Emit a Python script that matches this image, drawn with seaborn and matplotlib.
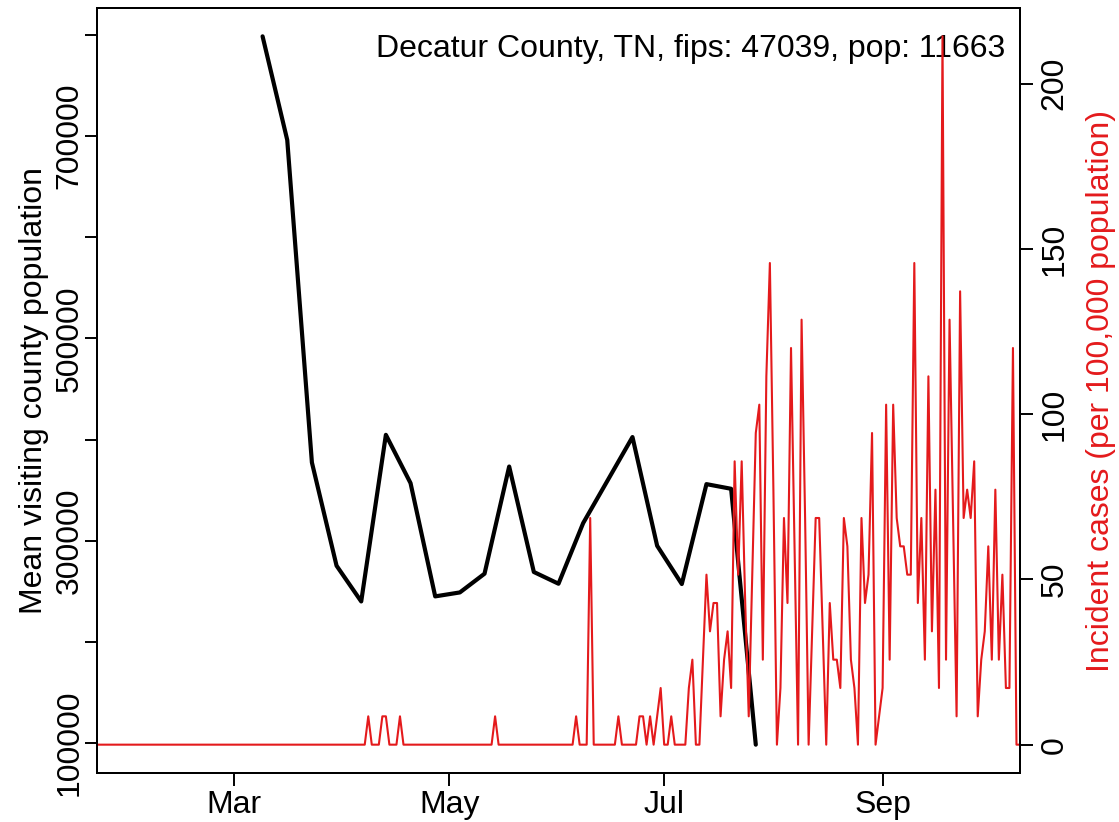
import numpy as np
import pandas as pd
import matplotlib
matplotlib.use("Agg")
import matplotlib.pyplot as plt
import matplotlib.dates as mdates
import matplotlib.ticker as mticker
import seaborn as sns

# ---------------- data ----------------
title_text = "Decatur County, TN, fips: 47039, pop: 11663"
county_pop = 11663

# weekly mean visiting county population (Mondays from 2020-03-09)
visit_start = "2020-03-09"
visit_pop = [798400, 696000, 377400, 275400, 240100, 404700, 357000, 245100,
             249000, 267500, 373400, 269200, 257600, 317500, 360000, 402500,
             295100, 257300, 356000, 351400, 98600]

# daily incident case counts, 2020-01-22 .. 2020-10-10
case_start = "2020-01-22"
cases_jan = [0, 0, 0, 0, 0, 0, 0, 0, 0, 0]
cases_feb = [0] * 29
cases_mar = [0] * 31
cases_apr = [0, 0, 0, 0, 0, 0, 0, 1, 0, 0, 0, 1, 1, 0, 0, 0, 1,
             0, 0, 0, 0, 0, 0, 0, 0, 0, 0, 0, 0, 0]
cases_may = [0, 0, 0, 0, 0, 0, 0, 0, 0, 0, 0, 0, 0, 1, 0, 0,
             0, 0, 0, 0, 0, 0, 0, 0, 0, 0, 0, 0, 0, 0, 0]
cases_jun = [0, 0, 0, 0, 0, 1, 0, 0, 0, 8, 0, 0, 0, 0, 0, 0, 0, 1,
             0, 0, 0, 0, 0, 1, 1, 0, 1, 0, 1, 2]
cases_jul = [0, 0, 1, 0, 0, 0, 0, 2, 3, 0, 0, 3, 6, 4, 5, 5, 1, 3, 4, 2,
             10, 6, 10, 5, 1, 6, 11, 12, 3, 13, 17]
cases_aug = [9, 0, 2, 8, 5, 14, 7, 0, 15, 8, 0, 4, 8, 8, 4, 0, 5, 3, 3, 2,
             8, 7, 3, 2, 0, 8, 5, 6, 11, 0, 1]
cases_sep = [2, 12, 3, 12, 8, 7, 7, 6, 6, 17, 5, 8, 3, 13, 4, 9, 2, 25, 3,
             15, 8, 1, 16, 8, 9, 8, 10, 1, 3, 4]
cases_oct = [7, 3, 9, 3, 6, 2, 2, 14, 0, 0]

x_tick_dates = ["2020-03-01", "2020-05-01", "2020-07-01", "2020-09-01"]
x_tick_labels = ["Mar", "May", "Jul", "Sep"]
left_ticks = [100000, 200000, 300000, 400000, 500000, 600000, 700000, 800000]
left_labeled = [100000, 300000, 500000, 700000]
right_ticks = [0, 50, 100, 150, 200]

# ---------------- frames ----------------
visit_df = pd.DataFrame({
    "date": pd.date_range(visit_start, periods=len(visit_pop), freq="7D"),
    "pop": visit_pop,
})
case_counts = (cases_jan + cases_feb + cases_mar + cases_apr + cases_may +
               cases_jun + cases_jul + cases_aug + cases_sep + cases_oct)
case_df = pd.DataFrame({
    "date": pd.date_range(case_start, periods=len(case_counts), freq="D"),
    "cases": case_counts,
})
case_df["rate"] = case_df["cases"] * 100000 / county_pop

# ---------------- style ----------------
sns.set_style("white")
plt.rcParams["font.family"] = ["Liberation Sans", "DejaVu Sans"]
plt.rcParams["text.color"] = "black"
plt.rcParams["axes.labelcolor"] = "black"
plt.rcParams["xtick.color"] = "black"
plt.rcParams["ytick.color"] = "black"
FS = 23
RED = "#E41A1C"

fig = plt.figure(figsize=(11.19, 8.22), dpi=100)
W, H = 1119, 822
L, R, T, B = 97, 1020, 8, 773
ax = fig.add_axes([L / W, 1 - B / H, (R - L) / W, (B - T) / H])

sns.lineplot(data=visit_df, x="date", y="pop", color="black", linewidth=3.0,
             ax=ax, legend=False)

def padded(lo, hi):
    r = hi - lo
    return lo - 0.04 * r, hi + 0.04 * r

ax.set_ylim(*padded(min(visit_pop), max(visit_pop)))
ax.set_xlim(case_df["date"].iloc[0], case_df["date"].iloc[-1])

ax2 = ax.twinx()
sns.lineplot(data=case_df, x="date", y="rate", color=RED, linewidth=1.5,
             ax=ax2, legend=False)
ax2.set_ylim(*padded(case_df["rate"].min(), case_df["rate"].max()))
ax2.set_xlim(case_df["date"].iloc[0], case_df["date"].iloc[-1])

# axes cosmetics
for a in (ax, ax2):
    for s in a.spines.values():
        s.set_visible(True)
        s.set_linewidth(1.4)
        s.set_color("black")

ax.set_xticks(pd.to_datetime(x_tick_dates))
ax.set_xticklabels(x_tick_labels)
ax.yaxis.set_major_locator(mticker.FixedLocator(left_ticks))
ax.set_yticklabels([str(v) if v in left_labeled else "" for v in left_ticks],
                   rotation=90, va="center")
ax2.yaxis.set_major_locator(mticker.FixedLocator(right_ticks))
ax2.set_yticklabels([str(v) for v in right_ticks], rotation=90, va="center")

ax.tick_params(axis="both", which="major", direction="out", length=9,
               width=1.4, labelsize=FS, left=True, bottom=True)
ax.tick_params(axis="y", pad=0)
ax.tick_params(axis="x", pad=3)
ax2.tick_params(axis="y", direction="out", length=9, width=1.4,
                labelsize=FS, pad=5, right=True)

ax.set_xlabel("")
ax.set_ylabel("Mean visiting county population", fontsize=FS, labelpad=4)
ax2.set_ylabel("Incident cases (per 100,000 population)", fontsize=FS,
               color=RED, labelpad=12)

ax.text(0.984, 0.947, title_text, transform=ax.transAxes, ha="right",
        va="center", fontsize=FS)

fig.savefig("out.png", dpi=100)
